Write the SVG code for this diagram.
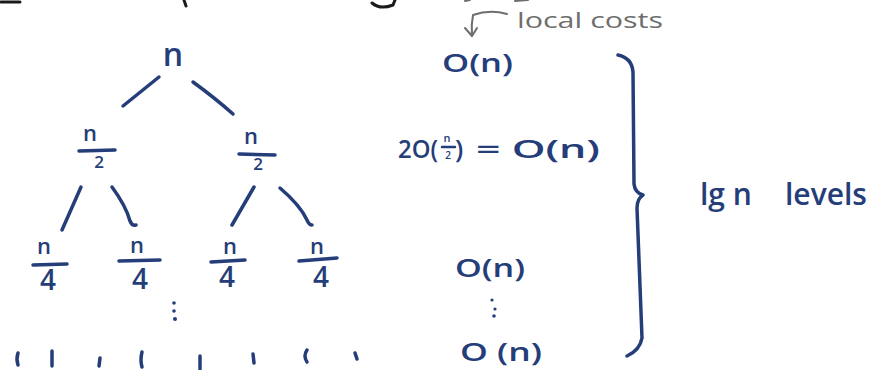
<svg xmlns="http://www.w3.org/2000/svg" width="877" height="370" viewBox="0 0 877 370">
<style>
.ink{fill:#253d78;font-family:"Open Sans","DejaVu Sans",sans-serif;font-weight:600}
.st{fill:none;stroke:#253d78;stroke-width:3.5;stroke-linecap:round;stroke-linejoin:round}
.bar{stroke:#253d78;stroke-width:3.5;stroke-linecap:round}
.gray{fill:#6e6e6e;font-family:"Open Sans","DejaVu Sans",sans-serif;font-weight:400}
.gst{fill:none;stroke:#6e6e6e;stroke-width:2;stroke-linecap:round;stroke-linejoin:round}
.blk{fill:none;stroke:#1a1a1a;stroke-width:3;stroke-linecap:round}
</style>
<rect width="877" height="370" fill="#ffffff"/>
<g id="title-fragments">
<path class="blk" d="M1 2 H20"/>
<path class="blk" d="M184 0 L186 6"/>
<path class="blk" d="M372 3 Q380 10 393 5 L395 0"/>
<path class="gst" d="M465 1 L470 0 M515 1 L528 0"/>
</g>
<g id="root">
<text class="ink" x="173" y="66" font-size="32" text-anchor="middle">n</text>
</g>
<g id="half-left">
<text class="ink" x="90" y="141" font-size="22" text-anchor="middle">n</text>
<line class="bar" x1="79" y1="151" x2="115" y2="150"/>
<text class="ink" x="99" y="168" font-size="17" text-anchor="middle">2</text>
</g>
<g id="half-right">
<text class="ink" x="251" y="144" font-size="22" text-anchor="middle">n</text>
<line class="bar" x1="239" y1="154" x2="275" y2="155"/>
<text class="ink" x="258" y="170" font-size="17" text-anchor="middle">2</text>
</g>
<g id="quarter-1">
<text class="ink" x="44" y="254" font-size="22" text-anchor="middle">n</text>
<line class="bar" x1="33" y1="265" x2="67" y2="264"/>
<text class="ink" x="48" y="290" font-size="28" text-anchor="middle">4</text>
</g>
<g id="quarter-2">
<text class="ink" x="137" y="253" font-size="22" text-anchor="middle">n</text>
<line class="bar" x1="119" y1="261" x2="160" y2="260"/>
<text class="ink" x="140" y="289" font-size="28" text-anchor="middle">4</text>
</g>
<g id="quarter-3">
<text class="ink" x="230" y="254" font-size="22" text-anchor="middle">n</text>
<line class="bar" x1="211" y1="262" x2="245" y2="260"/>
<text class="ink" x="227" y="287" font-size="28" text-anchor="middle">4</text>
</g>
<g id="quarter-4">
<text class="ink" x="317" y="254" font-size="22" text-anchor="middle">n</text>
<line class="bar" x1="299" y1="261" x2="337" y2="258"/>
<text class="ink" x="321" y="287" font-size="28" text-anchor="middle">4</text>
</g>
<g id="tree-dots">
<circle cx="174" cy="303" r="1.8" fill="#253d78"/>
<circle cx="174" cy="311" r="1.8" fill="#253d78"/>
<circle cx="175" cy="319" r="2" fill="#253d78"/>
</g>
<g id="leaves">
<path class="st" d="M18 353 Q16 359 18 365"/>
<path class="st" d="M52 351 L52 366"/>
<path class="st" d="M100 358 L99 366"/>
<path class="st" d="M142 352 Q140 360 142 367"/>
<path class="st" d="M200 356 L200 369"/>
<path class="st" d="M253 354 L254 363"/>
<path class="st" d="M307 350 Q303 356 307 362"/>
<path class="st" d="M355 353 L357 359"/>
</g>
<g id="connectors">
<path class="st" d="M159 77 L123 106"/>
<path class="st" d="M193 82 Q215 98 233 114"/>
<path class="st" d="M81 187 L62 230"/>
<path class="st" d="M112 187 Q126 206 130 221 Q132 226 136 225"/>
<path class="st" d="M254 187 L232 225"/>
<path class="st" d="M280 188 Q300 205 307 220 Q309 225 312 225"/>
</g>
<g id="local-costs">
<text class="gray" x="517" y="28" font-size="22" textLength="146" lengthAdjust="spacingAndGlyphs">local costs</text>
<path class="gst" d="M507 14 Q490 9 473 15 Q471 25 472 36"/>
<path class="gst" d="M465 28 L472 36 L477 28"/>
</g>
<g id="cost-1">
<text class="ink" x="442" y="72" font-size="26" textLength="71" lengthAdjust="spacingAndGlyphs">O(n)</text>
</g>
<g id="cost-2">
<text class="ink" x="398" y="158" font-size="26" textLength="40" lengthAdjust="spacingAndGlyphs">2O(</text>
<text class="ink" x="447" y="142" font-size="11" text-anchor="middle">n</text>
<line class="bar" x1="442" y1="147" x2="455" y2="147" style="stroke-width:2.5"/>
<text class="ink" x="448" y="159" font-size="10" text-anchor="middle">2</text>
<text class="ink" x="455" y="158" font-size="26">)</text>
<text class="ink" x="476" y="158" font-size="26" textLength="124" lengthAdjust="spacingAndGlyphs">= O(n)</text>
</g>
<g id="cost-3">
<text class="ink" x="455" y="277" font-size="26" textLength="70" lengthAdjust="spacingAndGlyphs">O(n)</text>
</g>
<g id="cost-dots">
<circle cx="492" cy="300" r="1.6" fill="#253d78"/>
<circle cx="495" cy="309" r="1.6" fill="#253d78"/>
<circle cx="494" cy="316" r="1.8" fill="#253d78"/>
</g>
<g id="cost-4">
<text class="ink" x="460" y="361" font-size="26" textLength="82" lengthAdjust="spacingAndGlyphs">O (n)</text>
</g>
<g id="brace">
<path class="st" d="M618 55 Q632 58 633 72 L634 184 Q635 193 643 195 Q637 199 637 208 L642 338 Q640 350 627 356"/>
</g>
<g id="levels">
<text class="ink" y="205" font-size="30" font-weight="500"><tspan x="700">lg n</tspan><tspan x="785">levels</tspan></text>
</g>
</svg>
